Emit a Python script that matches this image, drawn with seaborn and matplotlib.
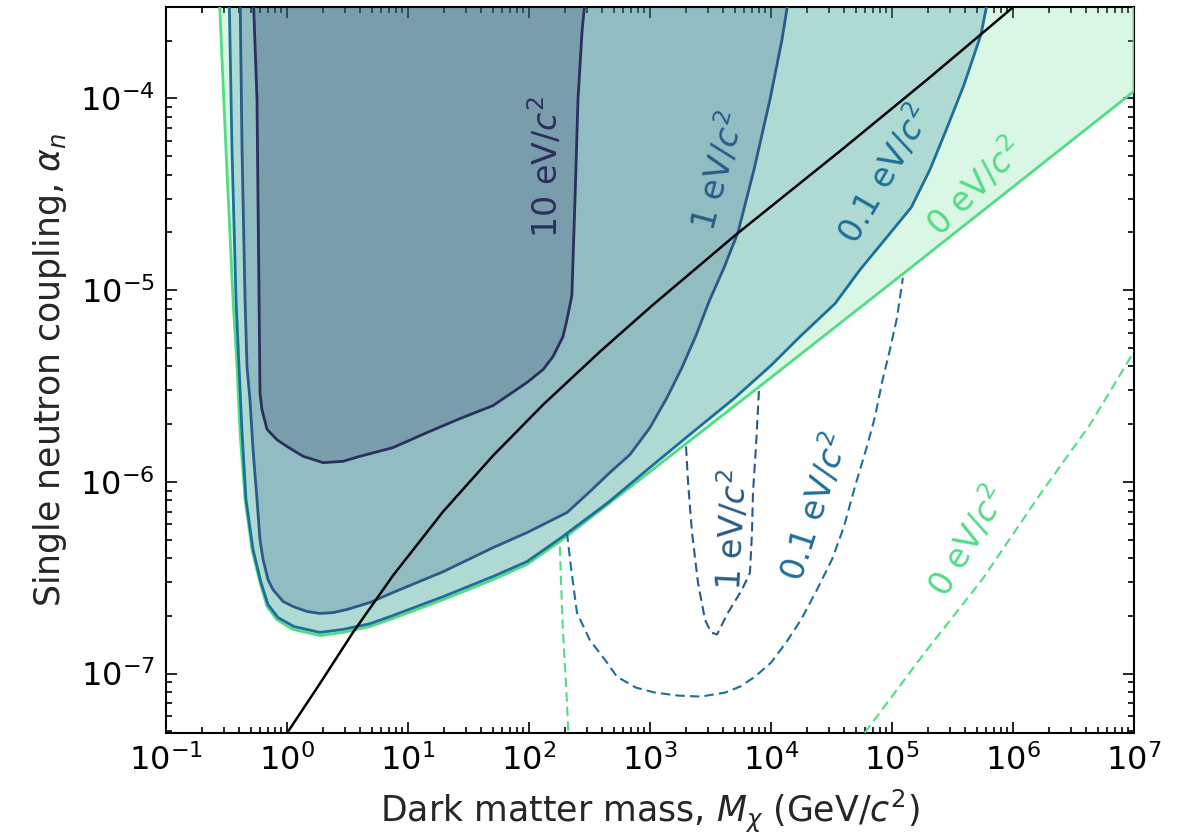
import numpy as np
import matplotlib
matplotlib.use("Agg")
import matplotlib.pyplot as plt
import matplotlib.ticker as mticker
import seaborn as sns

# ---------------- data ----------------
# 10 eV/c^2 exclusion contour
m10 = [0.524, 0.565, 0.576, 0.587, 0.598, 0.621, 0.684, 0.826, 1.0, 1.36, 1.99, 2.90, 4.01, 7.52, 14.4, 26.9,
       50.4, 96.2, 131, 158, 191, 206, 226, 240, 254, 274, 296]
a10 = [3.71e-4, 9.88e-5, 2.97e-5, 9.73e-6, 2.92e-6, 2.38e-6, 1.88e-6, 1.66e-6, 1.53e-6, 1.36e-6, 1.26e-6, 1.28e-6, 1.36e-6, 1.51e-6, 1.81e-6, 2.14e-6,
       2.50e-6, 3.30e-6, 3.86e-6, 4.51e-6, 5.73e-6, 7.03e-6, 9.38e-6, 2.97e-5, 9.88e-5, 2.21e-4, 3.71e-4]

# 1 eV/c^2 exclusion contour
m1 = [0.409, 0.425, 0.450, 0.467, 0.494, 0.524, 0.565, 0.598, 0.634, 0.697, 0.766, 0.927, 1.12, 1.46, 1.87, 2.40, 3.13, 4.85, 7.52,
      19.5, 50.4, 96.2, 206, 319, 467, 684, 1000, 1381, 1837, 2399, 3076, 4090, 5333, 7237, 9810, 12330, 14360]
a1 = [3.71e-4, 5.42e-5, 8.93e-6, 4.0e-6, 2.69e-6, 1.47e-6, 8.09e-7, 5.00e-7, 3.94e-7, 3.09e-7, 2.74e-7, 2.38e-7, 2.24e-7, 2.11e-7, 2.06e-7, 2.08e-7, 2.16e-7, 2.35e-7, 2.65e-7,
      3.40e-7, 4.54e-7, 5.44e-7, 6.92e-7, 8.91e-7, 1.12e-6, 1.39e-6, 1.92e-6, 2.75e-6, 3.95e-6, 5.80e-6, 8.73e-6, 1.31e-5, 2.00e-5, 4.26e-5, 9.88e-5, 2.03e-4, 3.71e-4]

# 0.1 eV/c^2 exclusion contour
m01 = [0.332, 0.351, 0.379, 0.401, 0.425, 0.458, 0.524, 0.610, 0.697, 0.843, 1.14, 1.87, 2.90, 4.85, 7.52, 19.5, 50.4, 96.2, 180, 450,
       1000, 2142, 5040, 10000, 17380, 33810, 54450, 87500, 1.44e5, 2.06e5, 2.79e5, 3.94e5, 5.44e5, 6.45e5]
a01 = [3.71e-4, 5.42e-5, 8.93e-6, 4.0e-6, 1.81e-6, 8.09e-7, 4.43e-7, 2.98e-7, 2.29e-7, 1.96e-7, 1.76e-7, 1.64e-7, 1.70e-7, 1.82e-7, 2.01e-7, 2.52e-7, 3.21e-7, 3.84e-7, 5.06e-7, 7.80e-7,
       1.19e-6, 1.77e-6, 2.75e-6, 4.05e-6, 5.73e-6, 8.51e-6, 1.28e-5, 1.84e-5, 2.70e-5, 4.26e-5, 6.80e-5, 1.18e-4, 2.16e-4, 3.71e-4]

# 0 eV/c^2 exclusion contour
m0 = [0.274, 0.313, 0.358, 0.386, 0.409, 0.450, 0.514, 0.598, 0.684, 0.826, 1.12, 1.87, 2.90, 4.85, 7.52, 19.5, 50.4, 96.2, 180,
      386, 1000, 7656, 1.28e5, 1e7, 1e7]
a0 = [3.71e-4, 5.42e-5, 8.93e-6, 4.0e-6, 1.81e-6, 8.09e-7, 4.43e-7, 2.98e-7, 2.24e-7, 1.91e-7, 1.70e-7, 1.58e-7, 1.64e-7, 1.76e-7, 1.94e-7, 2.43e-7, 3.09e-7, 3.71e-7, 4.89e-7,
      7.09e-7, 1.13e-6, 3.07e-6, 1.24e-5, 1.09e-4, 3.71e-4]

# dashed projections
dm0_left = [180, 184, 191, 202, 214]
da0_left = [4.60e-7, 2.98e-7, 1.64e-7, 8.97e-8, 4.27e-8]

dm01 = [206, 222, 249, 319, 425, 533, 766, 1100, 1702, 2638, 4168, 5540, 7376, 10000, 13300, 17700, 23990, 31920,
        40120, 49430, 62100, 72400, 82640, 96200, 1.10e5, 1.23e5]
da01 = [5.44e-7, 3.61e-7, 2.08e-7, 1.49e-7, 1.18e-7, 9.64e-8, 8.45e-8, 7.96e-8, 7.68e-8, 7.59e-8, 7.96e-8, 8.55e-8, 9.64e-8, 1.14e-7, 1.45e-7, 1.91e-7, 2.74e-7, 3.94e-7,
        5.85e-7, 9.46e-7, 1.53e-6, 2.19e-6, 3.30e-6, 4.90e-6, 7.19e-6, 1.16e-5]

dm1 = [1985, 2063, 2225, 2492, 2848, 3195, 3580, 4413, 5754, 6700, 6966, 7097, 7516, 7955]
da1 = [1.53e-6, 9.93e-7, 5.44e-7, 2.98e-7, 1.91e-7, 1.64e-7, 1.60e-7, 2.08e-7, 2.74e-7, 3.36e-7, 5.44e-7, 8.80e-7, 1.53e-6, 3.03e-6]

dm0_right = [50400, 1.87e5, 5.55e5, 1.67e6, 4.33e6, 1e7]
da0_right = [4.27e-8, 1.29e-7, 3.09e-7, 8.59e-7, 1.99e-6, 4.78e-6]

# black reference curve
bm = [0.91, 1.87, 3.51, 7.52, 19.5, 50.4, 131, 386, 1040, 5040, 38640, 2.06e5, 1e6]
ba = [4.47e-8, 8.87e-8, 1.64e-7, 3.25e-7, 7.00e-7, 1.37e-6, 2.53e-6, 4.78e-6, 8.31e-6, 1.93e-5, 5.42e-5, 1.29e-4, 2.99e-4]

labels = ["10 eV/$c^2$", "1 eV/$c^2$", "0.1 eV/$c^2$", "0 eV/$c^2$"]

# ---------------- style ----------------
sns.set_style("ticks")
plt.rcParams["font.family"] = ["DejaVu Sans"]
plt.rcParams["mathtext.fontset"] = "dejavusans"

c10, c1, c01, c0 = "#2c2f5e", "#2a5a88", "#1c6f98", "#52dc86"
ALPHA = 0.22

fig = plt.figure(figsize=(11.86, 8.35), dpi=100)
ax = fig.add_axes([166 / 1186, 1 - 733 / 835, (1134 - 166) / 1186, (733 - 7) / 835])
ax.set_xscale("log")
ax.set_yscale("log")

# fills (layered, outermost first)
for mm, aa, c in [(m0, a0, c0), (m01, a01, c01), (m1, a1, c1), (m10, a10, c10)]:
    ax.fill(mm, aa, color=c, alpha=ALPHA, lw=0, zorder=1)

# solid contours
for mm, aa, c in [(m0, a0, c0), (m01, a01, c01), (m1, a1, c1), (m10, a10, c10)]:
    sns.lineplot(x=mm, y=aa, sort=False, estimator=None, color=c, lw=2.0, ax=ax, zorder=3,
                 solid_joinstyle="round")

# dashed projections
for mm, aa, c in [(dm0_left, da0_left, c0), (dm01, da01, c01), (dm1, da1, c1), (dm0_right, da0_right, c0)]:
    sns.lineplot(x=mm, y=aa, sort=False, estimator=None, color=c, lw=1.5, ax=ax, zorder=3,
                 linestyle=(0, (4.5, 2.5)))

# black curve
sns.lineplot(x=bm, y=ba, sort=False, estimator=None, color="black", lw=1.8, ax=ax, zorder=4,
             solid_joinstyle="round")

ax.set_xlim(1e-1, 1e7)
ax.set_ylim(4.9e-8, 3.0e-4)

# labels on curves
fs = 24
ax.text(138, 4.41e-5, labels[0], color=c10, rotation=90, fontsize=fs, ha="center", va="center")
ax.text(3648, 4.16e-5, labels[1], color=c1, rotation=75, fontsize=fs, ha="center", va="center")
ax.text(87500, 4.0e-5, labels[2], color=c01, rotation=60, fontsize=fs, ha="center", va="center")
ax.text(4.85e5, 3.43e-5, labels[3], color=c0, rotation=45, fontsize=fs, ha="center", va="center")
ax.text(4760, 5.6e-7, labels[1], color=c1, rotation=87, fontsize=fs, ha="center", va="center")
ax.text(23100, 7.4e-7, labels[2], color=c01, rotation=72, fontsize=fs, ha="center", va="center")
ax.text(4.25e5, 4.9e-7, labels[3], color=c0, rotation=59, fontsize=fs, ha="center", va="center")

# ticks
ax.xaxis.set_major_locator(mticker.LogLocator(base=10, numticks=20))
ax.xaxis.set_minor_locator(mticker.LogLocator(base=10, subs=np.arange(2, 10), numticks=200))
ax.xaxis.set_minor_formatter(mticker.NullFormatter())
ax.yaxis.set_minor_locator(mticker.LogLocator(base=10, subs=np.arange(2, 10), numticks=200))
ax.yaxis.set_minor_formatter(mticker.NullFormatter())
ax.tick_params(which="both", direction="in", top=True, right=True, width=1.2, colors="black")
ax.tick_params(which="major", length=8, labelsize=23, pad=8)
ax.tick_params(which="minor", length=4)
for s in ax.spines.values():
    s.set_linewidth(1.5)
    s.set_color("black")

ax.set_xlabel("Dark matter mass, $M_\\chi$ (GeV/$c^2$)", fontsize=25, labelpad=8)
ax.set_ylabel("Single neutron coupling, $\\alpha_n$", fontsize=25, labelpad=8)

fig.savefig("out.png", dpi=100)
